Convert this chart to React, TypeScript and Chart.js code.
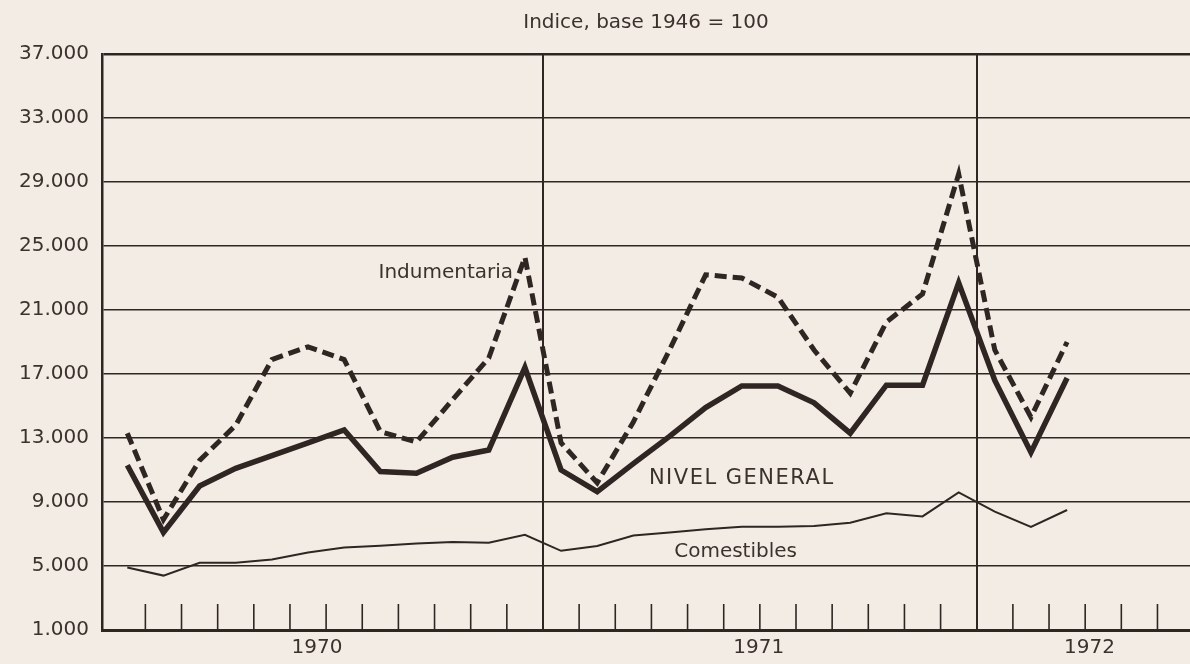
import React, { useEffect, useRef } from 'react';
import { Chart, registerables } from 'chart.js';

Chart.register(...registerables);

// Months: Jan 1970 .. Mar 1972 (index 0..26), plotted at mid-month
const monthLabels = [
  'ene 1970', 'feb 1970', 'mar 1970', 'abr 1970', 'may 1970', 'jun 1970',
  'jul 1970', 'ago 1970', 'sep 1970', 'oct 1970', 'nov 1970', 'dic 1970',
  'ene 1971', 'feb 1971', 'mar 1971', 'abr 1971', 'may 1971', 'jun 1971',
  'jul 1971', 'ago 1971', 'sep 1971', 'oct 1971', 'nov 1971', 'dic 1971',
  'ene 1972', 'feb 1972', 'mar 1972',
];

const nivelGeneral = [
  11300, 7100, 10000, 11100, 11900, 12700, 13500, 10900, 10800, 11800, 12250, 17400,
  11000, 9650, 11400, 13100, 14900, 16250, 16250, 15200, 13300, 16300, 16300, 22700,
  16600, 12100, 16750,
];

const indumentaria = [
  13300, 7900, 11600, 13800, 17900, 18700, 17900, 13400, 12750, 15400, 18000, 24300,
  12700, 10200, 14000, 18500, 23200, 23000, 21800, 18500, 15800, 20250, 22000, 29500,
  18500, 14300, 19000,
];

const comestibles = [
  4900, 4400, 5200, 5200, 5400, 5850, 6150, 6270, 6400, 6500, 6450, 6950,
  5950, 6250, 6900, 7100, 7300, 7450, 7450, 7500, 7700, 8300, 8100, 9600,
  8400, 7450, 8500,
];

const yTickValues = [1000, 5000, 9000, 13000, 17000, 21000, 25000, 29000, 33000, 37000];
const yearLabels = ['1970', '1971', '1972'];
const yearLabelPositions = [5.75, 17.97, 27.12];
const yearBoundaries = [12, 24];
const monthBoundaries = Array.from({ length: 29 }, (_, i) => i + 1);

const titleText = 'Indice, base 1946 = 100';
const noteTexts = ['Indumentaria', 'NIVEL GENERAL', 'Comestibles'];
const noteMonths = [7.45, 14.93, 15.63];
const noteValues = [23300, 10450, 5880];

const INK = '#2f2623';
const TEXT = '#3b322e';
const BG = '#f3ece4';
const FONT = '"DejaVu Sans", "Liberation Sans", sans-serif';

const fmt = (v: number) => String(v).replace(/\B(?=(\d{3})+(?!\d))/g, '.');

const monthTicksPlugin = {
  id: 'monthTicks',
  beforeDatasetsDraw(chart: any) {
    const { ctx, chartArea } = chart;
    const x = chart.scales.x;
    ctx.save();
    ctx.strokeStyle = INK;
    ctx.lineWidth = 1.6;
    monthBoundaries.forEach((m) => {
      if (yearBoundaries.includes(m)) return;
      const px = x.getPixelForValue(m);
      if (px > chartArea.right) return;
      ctx.beginPath();
      ctx.moveTo(px, chartArea.bottom);
      ctx.lineTo(px, chartArea.bottom - 26);
      ctx.stroke();
    });
    ctx.restore();
  },
};

const notesPlugin = {
  id: 'notes',
  afterDatasetsDraw(chart: any) {
    const { ctx } = chart;
    const x = chart.scales.x;
    const y = chart.scales.y;
    ctx.save();
    ctx.fillStyle = TEXT;
    ctx.textAlign = 'left';
    ctx.textBaseline = 'middle';
    noteTexts.forEach((t, i) => {
      const caps = t === t.toUpperCase();
      ctx.font = `${caps ? 21 : 20}px ${FONT}`;
      try {
        (ctx as any).letterSpacing = caps ? '1.5px' : '0px';
      } catch (e) {
        /* ignore */
      }
      ctx.fillText(t, x.getPixelForValue(noteMonths[i]), y.getPixelForValue(noteValues[i]));
    });
    ctx.restore();
  },
};

export default function App() {
  const canvasRef = useRef<HTMLCanvasElement | null>(null);

  useEffect(() => {
    document.body.style.margin = '0';
    document.body.style.background = BG;
    const canvas = canvasRef.current;
    if (!canvas) return;

    const toPoints = (arr: number[]) => arr.map((v, i) => ({ x: i + 0.5, y: v }));

    const chart = new Chart(canvas, {
      type: 'line',
      data: {
        labels: monthLabels,
        datasets: [
          {
            label: 'Comestibles',
            data: toPoints(comestibles),
            borderColor: INK,
            borderWidth: 2,
            pointRadius: 0,
            tension: 0,
            fill: false,
          },
          {
            label: 'Nivel general',
            data: toPoints(nivelGeneral),
            borderColor: INK,
            borderWidth: 5.5,
            borderJoinStyle: 'miter',
            pointRadius: 0,
            tension: 0,
            fill: false,
          },
          {
            label: 'Indumentaria',
            data: toPoints(indumentaria),
            borderColor: INK,
            borderWidth: 5,
            borderDash: [12, 6],
            borderJoinStyle: 'miter',
            pointRadius: 0,
            tension: 0,
            fill: false,
          },
        ],
      },
      options: {
        animation: false,
        responsive: false,
        devicePixelRatio: 1,
        layout: { padding: 0 },
        plugins: {
          legend: { display: false },
          tooltip: { enabled: false },
          title: {
            display: true,
            fullSize: false,
            text: titleText,
            color: TEXT,
            font: { family: FONT, size: 20, weight: 'normal' },
            padding: { top: 11, bottom: 19 },
          },
        },
        scales: {
          x: {
            type: 'linear',
            min: -0.2,
            max: 29.9,
            afterBuildTicks: (scale: any) => {
              const vals = [...yearLabelPositions, ...yearBoundaries].sort((a, b) => a - b);
              scale.ticks = vals.map((v) => ({ value: v }));
            },
            afterFit: (scale: any) => {
              scale.height = 34;
            },
            ticks: {
              autoSkip: false,
              maxRotation: 0,
              padding: 6,
              color: TEXT,
              font: { family: FONT, size: 20 },
              callback: (v: any) => {
                const idx = yearLabelPositions.findIndex((p) => Math.abs(p - v) < 1e-6);
                return idx >= 0 ? yearLabels[idx] : '';
              },
            },
            grid: {
              drawTicks: false,
              lineWidth: 2,
              color: (ctx: any) =>
                ctx.tick && yearBoundaries.some((b) => Math.abs(b - ctx.tick.value) < 1e-6)
                  ? INK
                  : 'rgba(0,0,0,0)',
            },
            border: { display: true, color: INK, width: 3 },
          },
          y: {
            type: 'linear',
            min: 1000,
            max: 37000,
            afterBuildTicks: (scale: any) => {
              scale.ticks = yTickValues.map((v) => ({ value: v }));
            },
            afterFit: (scale: any) => {
              scale.width = 102;
            },
            ticks: {
              padding: 13,
              color: TEXT,
              font: { family: FONT, size: 20 },
              callback: (v: any) => fmt(Number(v)),
            },
            grid: {
              drawTicks: false,
              color: INK,
              lineWidth: (ctx: any) => (ctx.tick && ctx.tick.value === 37000 ? 2.4 : 1.5),
            },
            border: { display: true, color: INK, width: 2.5 },
          },
        },
      },
      plugins: [monthTicksPlugin, notesPlugin],
    } as any);

    return () => {
      chart.destroy();
    };
  }, []);

  return (
    <div style={{ width: 1190, height: 664, background: BG }}>
      <canvas ref={canvasRef} width={1190} height={664} style={{ display: 'block', background: BG }} />
    </div>
  );
}
